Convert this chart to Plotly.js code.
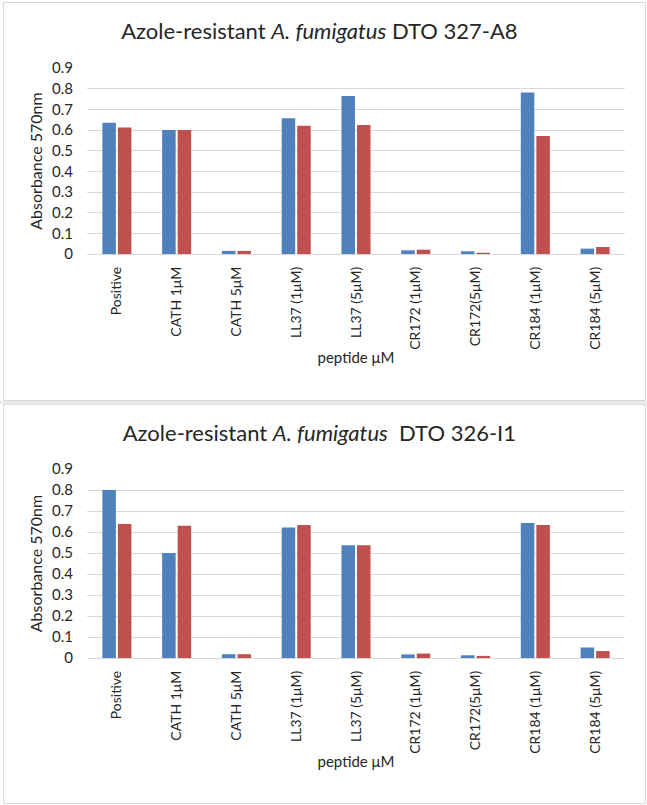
<!DOCTYPE html>
<html>
<head>
<meta charset="utf-8">
<script src="https://cdn.plot.ly/plotly-3.0.1.min.js"></script>
<style>
  html, body { margin: 0; padding: 0; background: #ffffff; width: 647px; height: 805px; overflow: hidden; }
  .panel { position: absolute; left: 3px; width: 641px; border: 1px solid #d9d9d9; background: #fff; }
  #gap { position: absolute; left: 0; top: 401px; width: 647px; height: 3px; background: #ebebeb; }
</style>
</head>
<body>
<div id="chart1" class="panel" style="top:2px;height:397px;"></div>
<div id="gap"></div>
<div id="chart2" class="panel" style="top:404px;height:398px;"></div>
<script>
const categories = ['Positive', 'CATH 1\u03bcM', 'CATH 5\u03bcM', 'LL37 (1\u03bcM)', 'LL37 (5\u03bcM)',
  'CR172 (1\u03bcM)', 'CR172(5\u03bcM)', 'CR184 (1\u03bcM)', 'CR184 (5\u03bcM)'];

const a8Blue = [0.635, 0.600, 0.015, 0.657, 0.765, 0.018, 0.013, 0.782, 0.026];
const a8Red  = [0.612, 0.600, 0.015, 0.620, 0.624, 0.021, 0.006, 0.571, 0.034];

const i1Blue = [0.800, 0.500, 0.018, 0.622, 0.537, 0.017, 0.013, 0.643, 0.050];
const i1Red  = [0.638, 0.630, 0.018, 0.633, 0.537, 0.021, 0.010, 0.633, 0.033];

const yTicks = [0, 0.1, 0.2, 0.3, 0.4, 0.5, 0.6, 0.7, 0.8, 0.9];
const yTickText = ['0', '0.1', '0.2', '0.3', '0.4', '0.5', '0.6', '0.7', '0.8', '0.9'];

const titleA8 = 'Azole-resistant <i>A. fumigatus</i> DTO 327-A8';
const titleI1 = 'Azole-resistant <i>A. fumigatus</i>&nbsp; DTO 326-I1';
const xTitle = 'peptide \u03bcM';
const yTitle = 'Absorbance 570nm';

const FONT = 'Lato, Carlito, Calibri, "Open Sans", sans-serif';

function makeChart(id, title, blue, red, height, t, b) {
  const traces = [
    { type: 'bar', x: categories, y: blue, marker: { color: '#4F81BD' }, hoverinfo: 'none' },
    { type: 'bar', x: categories, y: red, marker: { color: '#C0504D' }, hoverinfo: 'none' }
  ];
  const layout = {
    width: 641, height: height,
    margin: { l: 83, r: 20, t: t, b: b, pad: 0 },
    paper_bgcolor: '#ffffff', plot_bgcolor: '#ffffff',
    showlegend: false,
    barmode: 'group', bargap: 0.48, bargroupgap: 0.13,
    font: { family: FONT, color: '#262626', size: 15 },
    title: {
      text: title, font: { family: FONT, size: 22, color: '#262626', weight: 400 },
      x: 0.492, xanchor: 'center', xref: 'container',
      y: 1 - 28 / height, yanchor: 'middle', yref: 'container'
    },
    xaxis: {
      type: 'category', tickangle: -90, showgrid: false, showline: false, zeroline: false,
      ticks: '', ticklabelstandoff: 9, tickfont: { family: FONT, size: 14, color: '#262626' },
      title: { text: xTitle, font: { family: FONT, size: 15, color: '#262626' }, standoff: 3 }
    },
    yaxis: {
      range: [0, 0.9], tickvals: yTicks, ticktext: yTickText,
      showgrid: true, gridcolor: '#d9d9d9', gridwidth: 1, zeroline: true, zerolinecolor: '#d9d9d9', zerolinewidth: 1,
      showline: false, ticks: '', ticklabelstandoff: 13,
      tickfont: { family: FONT, size: 15, color: '#262626' },
      title: { text: yTitle, font: { family: FONT, size: 16, color: '#262626' }, standoff: 5 }
    }
  };
  Plotly.newPlot(id, traces, layout, { staticPlot: true, displayModeBar: false });
}

makeChart('chart1', titleA8, a8Blue, a8Red, 397, 65, 146);
makeChart('chart2', titleI1, i1Blue, i1Red, 398, 64, 145);
</script>
</body>
</html>
